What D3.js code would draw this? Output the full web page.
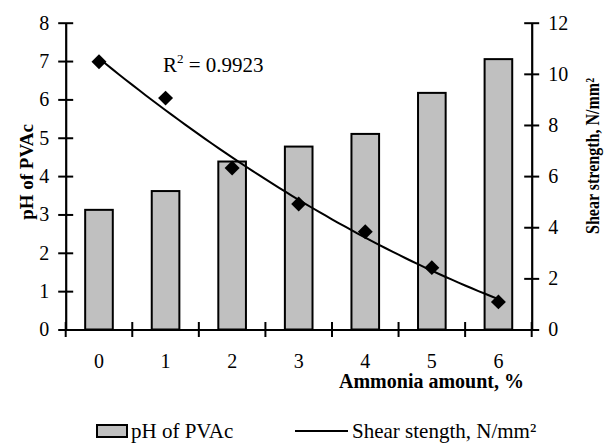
<!DOCTYPE html>
<html>
<head>
<meta charset="utf-8">
<script src="https://cdn.jsdelivr.net/npm/d3@7"></script>
<style>
  body { margin: 0; background: #fff; }
  svg text { font-family: "Liberation Serif", "Times New Roman", serif; fill: #000; }
</style>
</head>
<body>
<div class="chart"></div>
<script>
// data
const ammonia = [0, 1, 2, 3, 4, 5, 6];
const phValues = [3.12, 3.61, 4.38, 4.77, 5.1, 6.17, 7.05];
const shearValues = [10.47, 9.05, 6.32, 4.91, 3.82, 2.42, 1.08];
const leftTicks = [0, 1, 2, 3, 4, 5, 6, 7, 8];
const rightTicks = [0, 2, 4, 6, 8, 10, 12];
const r2Label = '0.9923';

const W = 608, H = 445;
const margin = { top: 22.7, right: 76.3, bottom: 115.5, left: 65.7 };
const width = W - margin.left - margin.right;
const height = H - margin.top - margin.bottom;

const svg = d3.select('.chart').append('svg')
  .attr('width', W).attr('height', H);
const g = svg.append('g')
  .attr('transform', 'translate(' + margin.left + ',' + margin.top + ')');

const x = d3.scaleBand().domain(ammonia).range([0, width]).padding(0);
const step = x.step();
const barW = step * 0.415;
const yL = d3.scaleLinear().domain([0, 8]).range([height, 0]);
const yR = d3.scaleLinear().domain([0, 12]).range([height, 0]);

// bars
g.selectAll('.bar').data(ammonia).enter().append('rect')
  .attr('class', 'bar')
  .attr('x', (d) => x(d) + step / 2 - barW / 2)
  .attr('y', (d, i) => yL(phValues[i]))
  .attr('width', barW)
  .attr('height', (d, i) => height - yL(phValues[i]))
  .attr('fill', '#c0c0c0')
  .attr('stroke', '#000')
  .attr('stroke-width', 2);

// quadratic trend line fitted to the shear values
const n = ammonia.length;
let s = [0, 0, 0, 0, 0], t = [0, 0, 0];
ammonia.forEach((a, i) => {
  for (let k = 0; k < 5; k++) s[k] += Math.pow(a, k);
  for (let k = 0; k < 3; k++) t[k] += Math.pow(a, k) * shearValues[i];
});
const M = [[s[0], s[1], s[2], t[0]], [s[1], s[2], s[3], t[1]], [s[2], s[3], s[4], t[2]]];
for (let c = 0; c < 3; c++) {
  for (let r = c + 1; r < 3; r++) {
    const f = M[r][c] / M[c][c];
    for (let k = c; k < 4; k++) M[r][k] -= f * M[c][k];
  }
}
const coef = [0, 0, 0];
for (let r = 2; r >= 0; r--) {
  let v = M[r][3];
  for (let k = r + 1; k < 3; k++) v -= M[r][k] * coef[k];
  coef[r] = v / M[r][r];
}
const fit = (a) => coef[0] + coef[1] * a + coef[2] * a * a;
const xLin = d3.scaleLinear()
  .domain([ammonia[0], ammonia[n - 1]])
  .range([x(ammonia[0]) + step / 2, x(ammonia[n - 1]) + step / 2]);
const samples = d3.range(0, 61).map((k) => ammonia[0] + (ammonia[n - 1] - ammonia[0]) * k / 60);

g.append('path')
  .datum(samples)
  .attr('d', d3.line().x((a) => xLin(a)).y((a) => yR(fit(a))))
  .attr('fill', 'none')
  .attr('stroke', '#000')
  .attr('stroke-width', 2);

// diamond markers
g.selectAll('.pt').data(ammonia).enter().append('path')
  .attr('class', 'pt')
  .attr('d', d3.symbol(d3.symbolSquare, 112))
  .attr('transform', (d, i) => 'translate(' + (x(d) + step / 2) + ',' + yR(shearValues[i]) + ') rotate(45)')
  .attr('fill', '#000');

// left axis
const axL = g.append('g').call(d3.axisLeft(yL).tickValues(leftTicks).tickSize(7.5).tickSizeOuter(0).tickPadding(9))
  .attr('font-family', null).attr('font-size', 20);
axL.selectAll('.tick line').attr('x1', 7.5).attr('stroke-width', 2);
axL.select('.domain').attr('stroke-width', 2.2);

// right axis
const axR = g.append('g').attr('transform', 'translate(' + width + ',0)')
  .call(d3.axisRight(yR).tickValues(rightTicks).tickSize(7.5).tickSizeOuter(0).tickPadding(9))
  .attr('font-family', null).attr('font-size', 20);
axR.selectAll('.tick line').attr('x1', -7.5).attr('stroke-width', 2);
axR.select('.domain').attr('stroke-width', 2.2);

// bottom axis: labels at centres, ticks at boundaries
const axB = g.append('g').attr('transform', 'translate(0,' + height + ')')
  .call(d3.axisBottom(x).tickSize(0).tickSizeOuter(0))
  .attr('font-family', null).attr('font-size', 20);
axB.select('.domain').attr('stroke-width', 2.2);
axB.selectAll('text').attr('y', 38.5).attr('dy', 0);
const bounds = ammonia.map((d) => x(d)).concat([x(ammonia[n - 1]) + step]);
axB.selectAll('.bound').data(bounds).enter().append('line')
  .attr('x1', (d) => d).attr('x2', (d) => d)
  .attr('y1', -7.5).attr('y2', 7.5)
  .attr('stroke', '#000').attr('stroke-width', 2);

// axis titles
svg.append('text')
  .attr('transform', 'translate(33,172) rotate(-90)')
  .attr('text-anchor', 'middle')
  .style('font-size', '19px').style('font-weight', 'bold')
  .text('pH of PVAc');

svg.append('text')
  .attr('transform', 'translate(599,156) rotate(-90)')
  .attr('text-anchor', 'middle')
  .attr('textLength', 156).attr('lengthAdjust', 'spacingAndGlyphs')
  .style('font-size', '19px').style('font-weight', 'bold')
  .text('Shear strength, N/mm²');

svg.append('text')
  .attr('x', 339).attr('y', 388)
  .style('font-size', '20px').style('font-weight', 'bold')
  .text('Ammonia amount, %');

// R² label
const r2 = svg.append('text').attr('x', 163).attr('y', 72).style('font-size', '21px');
r2.append('tspan').text('R');
r2.append('tspan').attr('dy', -9).style('font-size', '13px').text('2');
r2.append('tspan').attr('dy', 9).text(' = ' + r2Label);

// legend
const leg = svg.append('g');
leg.append('rect')
  .attr('x', 97).attr('y', 425).attr('width', 30).attr('height', 12)
  .attr('fill', '#c0c0c0').attr('stroke', '#000').attr('stroke-width', 2);
leg.append('text').attr('x', 131).attr('y', 438).style('font-size', '21px').text('pH of PVAc');
leg.append('line')
  .attr('x1', 295).attr('x2', 348).attr('y1', 431).attr('y2', 431)
  .attr('stroke', '#000').attr('stroke-width', 2);
leg.append('text').attr('x', 352).attr('y', 438).style('font-size', '21px').text('Shear stength, N/mm²');
</script>
</body>
</html>
